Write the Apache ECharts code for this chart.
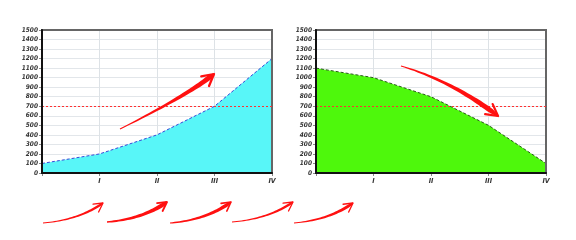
<!DOCTYPE html>
<html><head><meta charset="utf-8">
<script src="https://cdn.jsdelivr.net/npm/echarts@6/dist/echarts.min.js"></script>
<style>html,body{margin:0;padding:0;background:#fff}#c{width:576px;height:240px}</style>
</head><body><div id="c"></div>
<script>
var categories = ['', 'I', 'II', 'III', 'IV'];
var risingValues = [100, 200, 400, 700, 1200];
var fallingValues = [1100, 1000, 800, 500, 100];
var thresholdValue = 700;
var yMin = 0, yMax = 1500, yStep = 100;

var chart = echarts.init(document.getElementById('c'), null, {renderer: 'canvas'});

var labelStyle = {fontSize: 6.5, fontStyle: 'italic', fontWeight: 'bold', color: '#333', fontFamily: '"Liberation Sans Narrow", "DejaVu Sans Condensed", sans-serif'};

function xAxis(gi) {
  return {
    type: 'category', gridIndex: gi, data: categories, boundaryGap: false, position: 'bottom', z: 1,
    axisLine: {show: false},
    axisTick: {show: true, length: 3, lineStyle: {color: '#888'}},
    axisLabel: Object.assign({margin: 5, interval: 0}, labelStyle, {fontSize: 7}),
    splitLine: {show: true, lineStyle: {color: '#dde2e6', width: 1}}
  };
}
function yAxis(gi) {
  return {
    type: 'value', gridIndex: gi, min: yMin, max: yMax, interval: yStep, position: 'left', z: 1,
    axisLine: {show: false},
    axisTick: {show: true, length: 3, lineStyle: {color: '#888'}},
    axisLabel: Object.assign({margin: 4, formatter: function(v){ return String(v); }}, labelStyle),
    splitLine: {show: true, lineStyle: {color: '#e2e6ea', width: 1}}
  };
}
// overlay axes that only draw the black axis lines above the areas
function xLineAxis(gi) {
  return {type: 'category', gridIndex: gi, data: categories, boundaryGap: false, position: 'bottom', z: 7,
    axisLine: {show: true, onZero: false, lineStyle: {color: '#111', width: 2}},
    axisTick: {show: false}, axisLabel: {show: false}, splitLine: {show: false}};
}
function yLineAxis(gi) {
  return {type: 'value', gridIndex: gi, min: yMin, max: yMax, interval: yStep, position: 'left', z: 7,
    axisLine: {show: true, onZero: false, lineStyle: {color: '#111', width: 2}},
    axisTick: {show: false}, axisLabel: {show: false}, splitLine: {show: false}};
}
function markLine() {
  return {
    silent: true, symbol: 'none', label: {show: false},
    lineStyle: {color: '#ff3030', type: [2, 2], width: 1},
    data: [{yAxis: thresholdValue}]
  };
}

// decorative hand-drawn arrows
function arrowGraphic(p0, c, p1, w0, w1, wingLen, wingAng) {
  var N = 30, left = [], right = [];
  for (var i = 0; i <= N; i++) {
    var t = i / N, mt = 1 - t;
    var x = mt*mt*p0[0] + 2*mt*t*c[0] + t*t*p1[0];
    var y = mt*mt*p0[1] + 2*mt*t*c[1] + t*t*p1[1];
    var dx = 2*mt*(c[0]-p0[0]) + 2*t*(p1[0]-c[0]);
    var dy = 2*mt*(c[1]-p0[1]) + 2*t*(p1[1]-c[1]);
    var L = Math.sqrt(dx*dx+dy*dy) || 1;
    var nx = -dy/L, ny = dx/L;
    var w = (w0 + (w1-w0)*Math.min(1, t*1.15)) / 2;
    if (t > 0.92) w *= (1 - (t-0.92)/0.08*0.6);
    left.push([x + nx*w, y + ny*w]);
    right.push([x - nx*w, y - ny*w]);
  }
  var pts = left.concat(right.reverse());
  var dx = p1[0]-c[0], dy = p1[1]-c[1];
  var a = Math.atan2(dy, dx);
  var wa = [p1[0] - wingLen*Math.cos(a - wingAng), p1[1] - wingLen*Math.sin(a - wingAng)];
  var wb = [p1[0] - wingLen*Math.cos(a + wingAng), p1[1] - wingLen*Math.sin(a + wingAng)];
  return [
    {type: 'polygon', z: 100, shape: {points: pts}, style: {fill: '#ff1010'}},
    {type: 'polyline', z: 100, shape: {points: [wa, p1, wb]}, style: {stroke: '#ff1010', lineWidth: Math.max(1.3, w1*0.45), lineCap: 'round', lineJoin: 'round', fill: null}}
  ];
}
var graphics = [];
graphics = graphics.concat(arrowGraphic([120,129],[188,95],[214,74], 1, 5, 13, 0.5));
graphics = graphics.concat(arrowGraphic([401,66],[452,81],[498,116], 1, 5, 13, 0.5));
var bottomArrows = [[43,223,103,203,0.8,2.5],[107,222,167,202,1.5,4],[170,223,231,202,1.2,3.5],[232,222,293,202,0.8,2.5],[294,223,353,203,1,3]];
bottomArrows.forEach(function(b){
  var cx = b[0] + (b[2]-b[0])*0.6, cy = b[1] - 3;
  graphics = graphics.concat(arrowGraphic([b[0],b[1]],[cx,cy],[b[2],b[3]], b[4], b[5], 10, 0.5));
});

chart.setOption({
  animation: false,
  backgroundColor: '#fff',
  grid: [
    {left: 42, top: 30, width: 230, height: 143, show: true, z: 5, borderColor: '#666', borderWidth: 2, backgroundColor: 'transparent', containLabel: false},
    {left: 316, top: 30, width: 230, height: 143, show: true, z: 5, borderColor: '#666', borderWidth: 2, backgroundColor: 'transparent', containLabel: false}
  ],
  xAxis: [xAxis(0), xAxis(1), xLineAxis(0), xLineAxis(1)],
  yAxis: [yAxis(0), yAxis(1), yLineAxis(0), yLineAxis(1)],
  series: [
    {type: 'line', xAxisIndex: 0, yAxisIndex: 0, data: risingValues, symbol: 'none', z: 2,
     lineStyle: {color: '#3a48d8', width: 1, type: [3, 2]},
     areaStyle: {color: '#58f6f8', opacity: 1}, markLine: markLine()},
    {type: 'line', xAxisIndex: 1, yAxisIndex: 1, data: fallingValues, symbol: 'none', z: 2,
     lineStyle: {color: '#2a5a1a', width: 1, type: [3, 2]},
     areaStyle: {color: '#4ef80c', opacity: 1}, markLine: markLine()}
  ],
  graphic: graphics
});
</script></body></html>
